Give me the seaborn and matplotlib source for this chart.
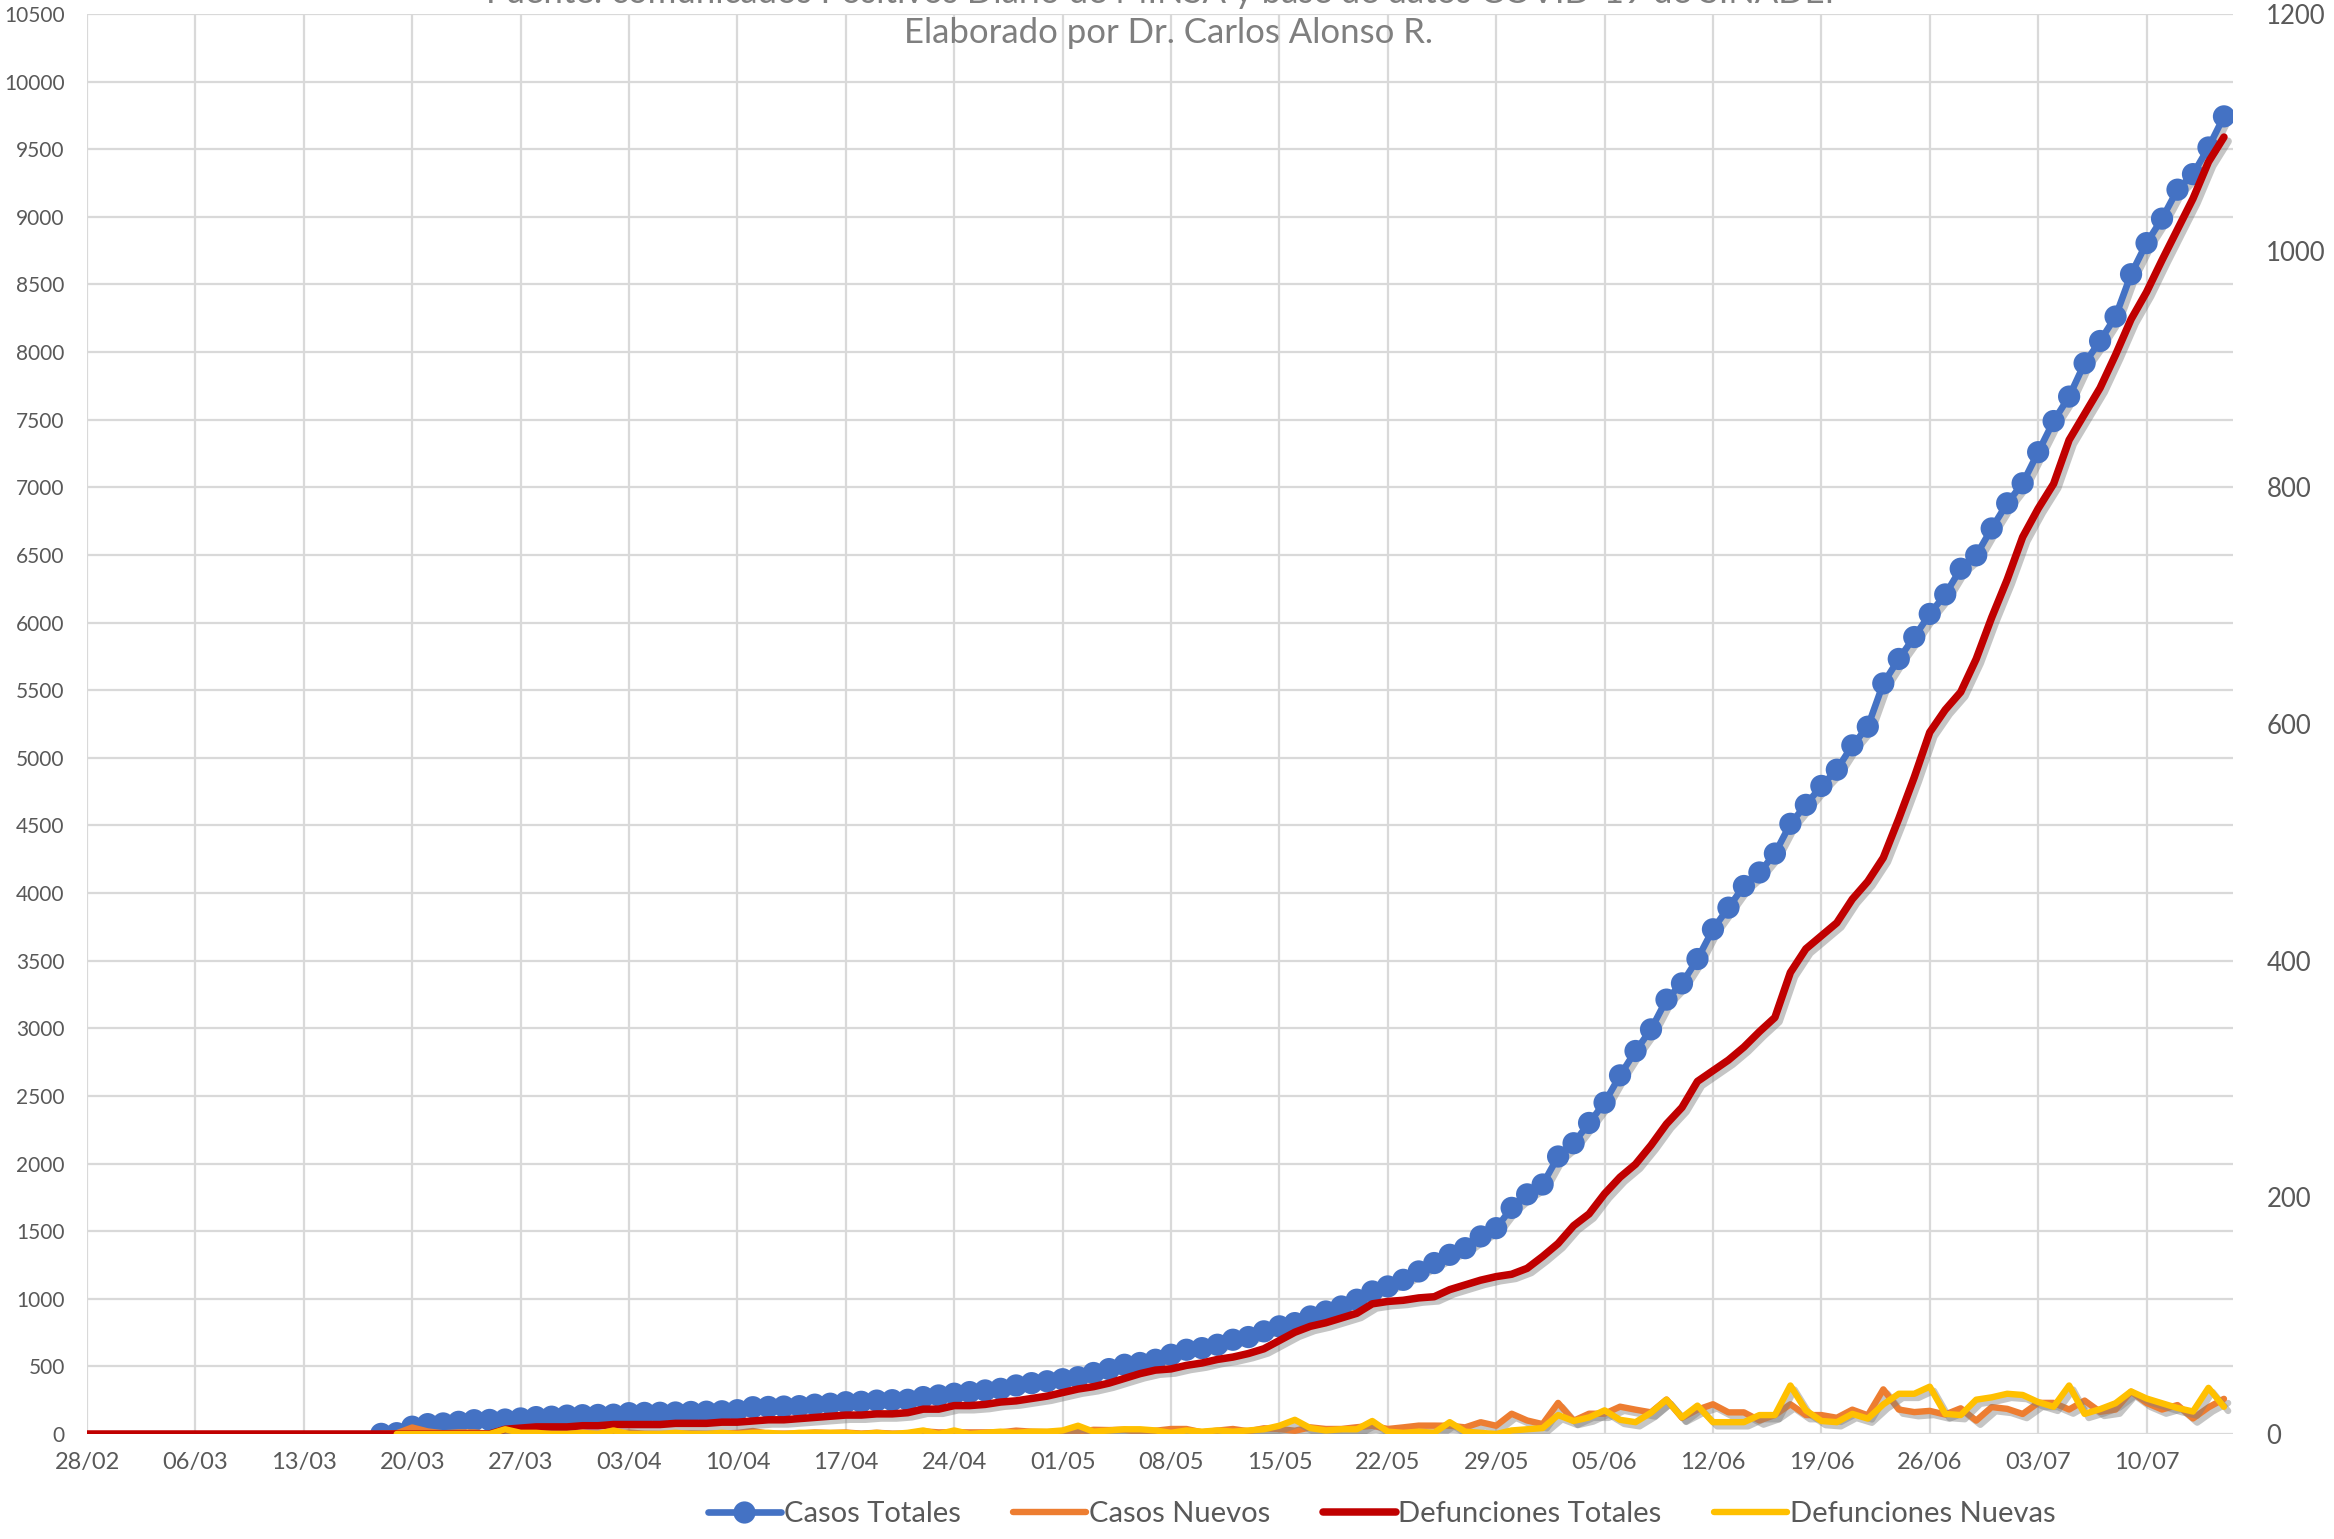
import numpy as np
import pandas as pd
import matplotlib
matplotlib.use("Agg")
import matplotlib.pyplot as plt
import matplotlib.patheffects as pe
from matplotlib.lines import Line2D
import seaborn as sns

# ---------------- data ----------------
fecha_inicio = "2020-02-28"
fecha_fin = "2020-07-15"

etiquetas_x = ["28/02", "06/03", "13/03", "20/03", "27/03", "03/04", "10/04",
               "17/04", "24/04", "01/05", "08/05", "15/05", "22/05", "29/05",
               "05/06", "12/06", "19/06", "26/06", "03/07", "10/07"]

ticks_izq = list(range(0, 10501, 500))
ticks_der = list(range(0, 1201, 200))

casos_totales = [None] * 19 + [
    1, 6, 54, 73, 78, 90, 102, 104, 107, 115,
    125, 128, 136, 139, 141, 143, 154, 156, 157, 159,
    163, 165, 168, 176, 198, 200, 203, 206, 217, 224,
    235, 238, 247, 250, 253, 273, 285, 298, 310, 322,
    334, 359, 376, 390, 405, 420, 451, 480, 512, 525,
    549, 586, 623, 635, 660, 697, 717, 759, 796, 820,
    869, 906, 943, 993, 1054, 1091, 1140, 1202, 1264, 1325,
    1374, 1461, 1522, 1672, 1772, 1845, 2052, 2150, 2300, 2450,
    2652, 2832, 2992, 3212, 3332, 3512, 3732, 3892, 4052, 4152,
    4292, 4512, 4652, 4792, 4912, 5092, 5230, 5550, 5731, 5893,
    6064, 6208, 6398, 6497, 6696, 6882, 7030, 7260, 7490, 7671,
    7918, 8082, 8263, 8576, 8806, 8987, 9201, 9316, 9513, 9743]

casos_nuevos = [None] * 19 + [
    1, 5, 48, 19, 5, 12, 12, 2, 3, 8,
    10, 3, 8, 3, 2, 2, 11, 2, 1, 2,
    4, 2, 3, 8, 22, 2, 3, 3, 11, 7,
    11, 3, 9, 3, 3, 20, 12, 13, 12, 12,
    12, 25, 17, 14, 15, 15, 31, 29, 32, 13,
    24, 37, 37, 12, 25, 37, 20, 42, 37, 24,
    49, 37, 37, 50, 61, 37, 49, 62, 62, 61,
    49, 87, 61, 150, 100, 73, 230, 98, 150, 150,
    202, 180, 160, 255, 120, 180, 220, 160, 160, 100,
    140, 220, 140, 140, 120, 180, 138, 330, 181, 162,
    171, 144, 190, 99, 199, 186, 148, 230, 230, 181,
    247, 164, 181, 313, 230, 181, 214, 115, 197, 260]

defunciones_totales = [0] * 27 + [
    4, 5, 6, 6, 6, 7, 7, 8, 8, 8,
    8, 9, 9, 9, 10, 10, 11, 12, 12, 13,
    14, 15, 16, 16, 17, 17, 18, 21, 21, 24,
    24, 25, 27, 28, 30, 32, 35, 38, 40, 43,
    47, 51, 54, 55, 58, 60, 63, 65, 68, 72,
    79, 86, 91, 94, 98, 102, 110, 112, 113, 115,
    116, 122, 126, 130, 133, 135, 140, 150, 161, 176,
    186, 203, 217, 228, 244, 262, 276, 298, 307, 316,
    327, 340, 352, 390, 410, 421, 432, 452, 467, 487,
    520, 555, 593, 612, 627, 655, 690, 722, 758, 782,
    803, 840, 862, 884, 912, 942, 965, 992, 1018, 1044,
    1075, 1096]

defunciones_nuevas = [None] * 20 + [
    0, 0, 0, 0, 0, 0, 0, 4, 1, 1,
    0, 0, 1, 0, 3, 0, 0, 0, 1, 0,
    0, 1, 0, 1, 1, 0, 1, 1, 1, 1,
    0, 1, 0, 1, 3, 0, 3, 0, 1, 2,
    1, 2, 2, 3, 7, 2, 3, 4, 4, 3,
    1, 3, 2, 3, 2, 3, 4, 7, 12, 5,
    3, 4, 4, 11, 2, 1, 2, 1, 10, 2,
    1, 0, 3, 4, 5, 16, 11, 14, 20, 12,
    10, 18, 29, 14, 24, 10, 10, 10, 16, 16,
    41, 20, 11, 10, 17, 13, 25, 34, 34, 40,
    17, 16, 29, 31, 34, 33, 27, 23, 41, 17,
    21, 26, 36, 30, 26, 22, 19, 39, 23]

titulo = "Fuente: comunicados Positivos Diario de MINSA y base de datos COVID-19 de SINADEF"
subtitulo = "Elaborado por Dr. Carlos Alonso R."

nombres = ["Casos Totales", "Casos Nuevos", "Defunciones Totales", "Defunciones Nuevas"]
colores = ["#4472C4", "#ED7D31", "#C00000", "#FFC000"]

# ---------------- figure ----------------
sns.set_theme(style="white")
plt.rcParams["font.family"] = ["Lato", "DejaVu Sans"]

fechas = pd.date_range(fecha_inicio, fecha_fin, freq="D")
df = pd.DataFrame({
    "fecha": fechas,
    nombres[0]: np.array(casos_totales, dtype=float),
    nombres[1]: np.array(casos_nuevos, dtype=float),
    nombres[2]: np.array(defunciones_totales, dtype=float),
    nombres[3]: np.array(defunciones_nuevas, dtype=float),
})

W, H = 2334, 1539
fig = plt.figure(figsize=(W / 100, H / 100), dpi=100)
left, right, top, bottom = 87, 2233, 14, 1434
ax = fig.add_axes([left / W, 1 - bottom / H, (right - left) / W, (bottom - top) / H])
ax2 = ax.twinx()

sombra = [pe.SimpleLineShadow(offset=(3, -3), shadow_color="#808080", alpha=0.45),
          pe.Normal()]

lw_azul, ms_azul = 4.8, 16
sns.lineplot(data=df, x="fecha", y=nombres[0], ax=ax, color=colores[0], lw=lw_azul,
             marker="o", markersize=ms_azul, markeredgewidth=0, estimator=None)
ax.lines[-1].set_path_effects(sombra)
sns.lineplot(data=df, x="fecha", y=nombres[1], ax=ax, color=colores[1], lw=4.6,
             estimator=None)
ax.lines[-1].set_path_effects(sombra)
sns.lineplot(data=df, x="fecha", y=nombres[2], ax=ax2, color=colores[2], lw=5.4,
             estimator=None)
ax2.lines[-1].set_path_effects(sombra)
sns.lineplot(data=df, x="fecha", y=nombres[3], ax=ax2, color=colores[3], lw=4.6,
             estimator=None)
ax2.lines[-1].set_path_effects(sombra)

# axes
ax.set_ylim(ticks_izq[0], ticks_izq[-1])
ax2.set_ylim(ticks_der[0], ticks_der[-1])
ax.set_xlim(fechas[0], fechas[-1] + pd.Timedelta(hours=14))

ax.set_yticks(ticks_izq)
ax.set_yticklabels([str(t) for t in ticks_izq])
ax2.set_yticks(ticks_der)
ax2.set_yticklabels([str(t) for t in ticks_der])
ax.set_xticks(fechas[::7][:len(etiquetas_x)])
ax.set_xticklabels(etiquetas_x)

gris = "#595959"
ax.tick_params(axis="y", length=0, pad=16, labelsize=15, labelcolor=gris)
ax.tick_params(axis="x", length=0, pad=13, labelsize=17, labelcolor=gris)
ax2.tick_params(axis="y", length=0, pad=24, labelsize=18.5, labelcolor=gris)

ax.grid(True, which="major", axis="both", color="#d9d9d9", lw=1.6)
ax.set_axisbelow(True)
ax2.grid(False)
for a in (ax, ax2):
    a.set_xlabel("")
    a.set_ylabel("")
    for s in a.spines.values():
        s.set_visible(False)
ax2.patch.set_visible(False)

# titles
fig.text(0.499, 1 - 3 / H, titulo, ha="center", va="baseline", fontsize=25,
         color="#7f7f7f")
fig.text(1168 / W, 1 - 33 / H, subtitulo, ha="center", va="center", fontsize=25,
         color="#7f7f7f")

# legend
handles = [
    Line2D([0], [0], color=colores[0], lw=lw_azul, marker="o", markersize=ms_azul,
           markeredgewidth=0),
    Line2D([0], [0], color=colores[1], lw=4.6),
    Line2D([0], [0], color=colores[2], lw=5.4),
    Line2D([0], [0], color=colores[3], lw=4.6),
]
leg = fig.legend(handles, nombres, loc="center", bbox_to_anchor=(0.592, 1 - 1514 / H),
                 ncol=4, frameon=False, fontsize=21, handlelength=2.5,
                 handletextpad=0.1, columnspacing=1.8)
for t in leg.get_texts():
    t.set_color(gris)

fig.savefig("out.png", dpi=100)
